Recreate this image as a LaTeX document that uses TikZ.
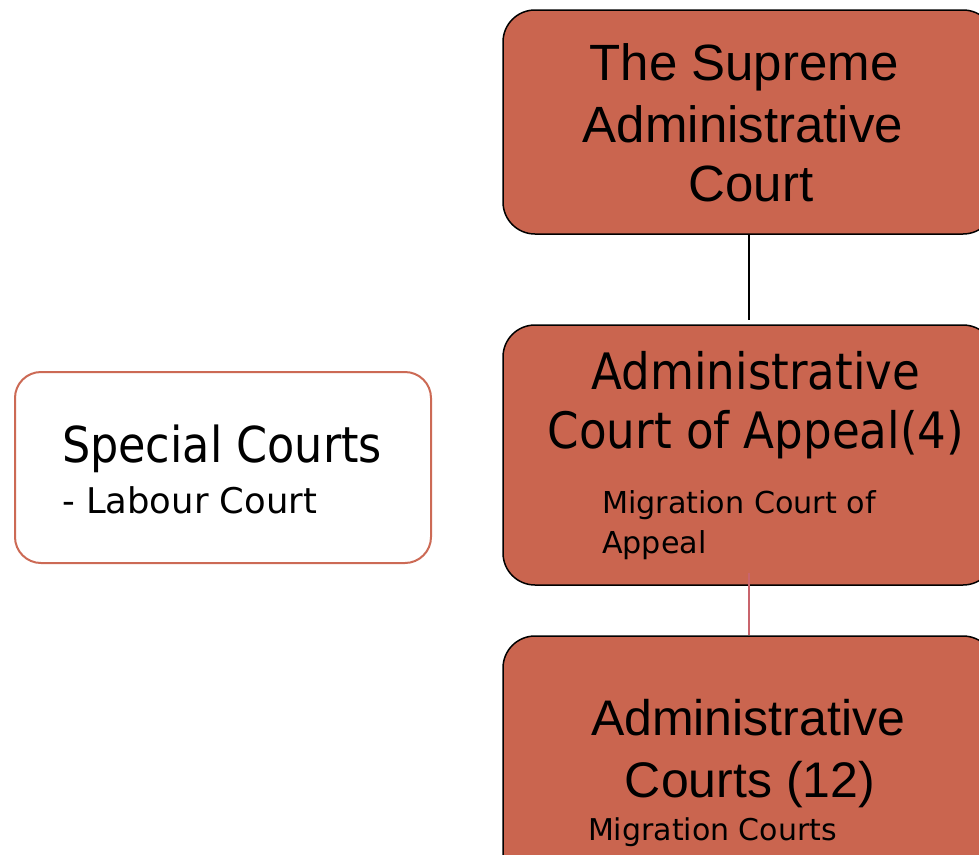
\documentclass[tikz,border=0pt]{standalone}
\usepackage{fontspec}
\setmainfont{Liberation Sans}
\newfontfamily\tahoma{DejaVu Sans Condensed}
\newfontfamily\tahomasmall{DejaVu Sans}
\definecolor{courtfill}{HTML}{CA654F}
\definecolor{courtline}{HTML}{CC6A55}
\definecolor{linkpink}{HTML}{C9646C}
\tikzset{
  courtbox/.style={draw=black, line width=1.5pt, fill=courtfill, rounded corners=32pt, minimum width=492pt, inner sep=0pt},
  specialbox/.style={draw=courtline, line width=2pt, fill=white, rounded corners=26pt, minimum width=416pt, minimum height=191pt, inner sep=0pt},
  txt/.style={inner sep=0pt, outer sep=0pt, text=black},
  link/.style={line width=1.3pt}
}
\begin{document}
\begin{tikzpicture}[x=1pt,y=-1pt]
\useasboundingbox (0,0) rectangle (979,854);
\clip (0,0) rectangle (979,854);
% boxes
\node[courtbox, minimum height=224pt] (b1) at (749,122) {};
\node[courtbox, minimum height=260pt] (b2) at (749,455) {};
\node[courtbox, minimum height=260pt] (b3) at (749,766) {};
\node[specialbox] (sp) at (223,467.5) {};
% connectors
\coordinate (c1) at (749,320);
\coordinate (c2) at (749,573);
\draw[link, black] (b1.south) -- (c1);
\draw[link, linkpink] (c2) -- (b3.north);
% texts box 1
\node[txt, anchor=base, font=\fontsize{51}{60}\selectfont] (t1a) at (744,80) {The Supreme};
\node[txt, anchor=base, font=\fontsize{51}{60}\selectfont] (t1b) at (743,142) {Administrative};
\node[txt, anchor=base, font=\fontsize{51}{60}\selectfont] (t1c) at (751,201) {Court};
% texts box 2
\node[txt, anchor=base, font=\tahoma\fontsize{50.2}{59}\selectfont] (t2a) at (756,389) {Administrative};
\node[txt, anchor=base, font=\tahoma\fontsize{50.2}{59}\selectfont] (t2b) at (756,448) {Court of Appeal(4)};
\node[txt, anchor=base west, font=\tahomasmall\fontsize{30.2}{40}\selectfont] (t2c) at (602,513) {Migration Court of};
\node[txt, anchor=base west, font=\tahomasmall\fontsize{30.2}{40}\selectfont] (t2d) at (602,553) {Appeal};
% texts box 3
\node[txt, anchor=base, font=\fontsize{50}{60}\selectfont] (t3a) at (748,735) {Administrative};
\node[txt, anchor=base, font=\fontsize{50}{60}\selectfont] (t3b) at (750,797) {Courts (12)};
\node[txt, anchor=base west, font=\tahomasmall\fontsize{30}{40}\selectfont] (t3c) at (588,840) {Migration Courts};
% special courts
\node[txt, anchor=base west, font=\tahoma\fontsize{49.5}{58}\selectfont] (s1) at (62,462) {Special Courts};
\node[txt, anchor=base west, font=\tahomasmall\fontsize{35.4}{40}\selectfont] (s2) at (62,513) {- Labour Court};
\end{tikzpicture}
\end{document}
